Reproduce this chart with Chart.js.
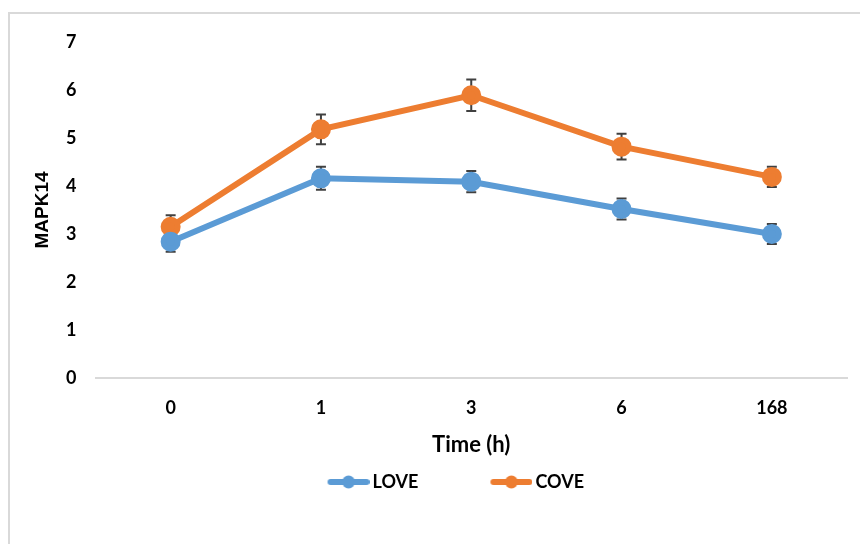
<!DOCTYPE html>
<html>
<head>
<meta charset="utf-8">
<script src="https://cdn.jsdelivr.net/npm/chart.js@4.4.1/dist/chart.umd.min.js"></script>
<style>
  body { margin: 0; background: #fff; }
  #wrap { width: 860px; height: 544px; }
</style>
</head>
<body>
<div id="wrap"><canvas id="myChart" width="860" height="544"></canvas></div>
<script>
// dữ liệu
var timeLabels = ['0', '1', '3', '6', '168'];
var loveValues = [2.84, 4.16, 4.09, 3.52, 3.0];
var loveErrors = [0.21, 0.24, 0.22, 0.22, 0.21];
var coveValues = [3.15, 5.18, 5.89, 4.82, 4.19];
var coveErrors = [0.24, 0.31, 0.33, 0.27, 0.21];

var blue = '#5b9bd5';
var orange = '#ed7d31';
var fontName = 'Lato, "Liberation Sans", Arial, sans-serif';
var tickFont = { family: fontName, size: 18, weight: 'bold' };

// legend marker: line with a dot (left part transparent = spacing)
function legendIcon(color) {
  var c = document.createElement('canvas');
  c.width = 110; c.height = 16;
  var g = c.getContext('2d');
  g.strokeStyle = color;
  g.lineWidth = 6;
  g.lineCap = 'round';
  g.beginPath(); g.moveTo(71, 8); g.lineTo(107, 8); g.stroke();
  g.fillStyle = color;
  g.beginPath(); g.arc(89, 8, 6.5, 0, Math.PI * 2); g.fill();
  return c;
}

// error bars + frame
var errorBars = {
  id: 'errorBars',
  beforeDraw: function (chart) {
    var ctx = chart.ctx;
    ctx.save();
    ctx.strokeStyle = '#d9d9d9';
    ctx.lineWidth = 2;
    ctx.beginPath();
    ctx.moveTo(9, 560);
    ctx.lineTo(9, 13);
    ctx.lineTo(870, 13);
    ctx.stroke();
    ctx.restore();
  },
  beforeDatasetsDraw: function (chart) {
    var ctx = chart.ctx;
    var y = chart.scales.y;
    ctx.save();
    ctx.strokeStyle = '#404040';
    ctx.lineWidth = 2;
    chart.data.datasets.forEach(function (ds, i) {
      var meta = chart.getDatasetMeta(i);
      meta.data.forEach(function (pt, j) {
        var top = y.getPixelForValue(ds.data[j] + ds.errors[j]);
        var bot = y.getPixelForValue(ds.data[j] - ds.errors[j]);
        ctx.beginPath();
        ctx.moveTo(pt.x, top); ctx.lineTo(pt.x, bot);
        ctx.moveTo(pt.x - 5, top); ctx.lineTo(pt.x + 5, top);
        ctx.moveTo(pt.x - 5, bot); ctx.lineTo(pt.x + 5, bot);
        ctx.stroke();
      });
    });
    ctx.restore();
  }
};

var ctx = document.getElementById('myChart').getContext('2d');
var myChart = new Chart(ctx, {
  type: 'line',
  data: {
    labels: timeLabels,
    datasets: [{
      label: 'LOVE',
      data: loveValues,
      errors: loveErrors,
      borderColor: blue,
      backgroundColor: blue,
      borderWidth: 6,
      pointRadius: 7,
      pointHoverRadius: 7,
      tension: 0
    }, {
      label: 'COVE',
      data: coveValues,
      errors: coveErrors,
      borderColor: orange,
      backgroundColor: orange,
      borderWidth: 6,
      pointRadius: 7,
      pointHoverRadius: 7,
      tension: 0
    }]
  },
  options: {
    responsive: false,
    animation: false,
    layout: { padding: { top: 42, right: 10.5, bottom: 43, left: 0 } },
    plugins: {
      tooltip: { enabled: false },
      legend: {
        position: 'bottom',
        labels: {
          usePointStyle: true,
          pointStyleWidth: 98,
          generateLabels: function (chart) {
            return chart.data.datasets.map(function (ds, i) {
              return {
                text: ds.label,
                pointStyle: legendIcon(ds.borderColor),
                fillStyle: ds.borderColor,
                strokeStyle: ds.borderColor,
                lineWidth: 0,
                datasetIndex: i,
                fontColor: '#000'
              };
            });
          },
          font: { family: fontName, size: 18, weight: 'bold' },
          color: '#000',
          padding: 10
        }
      }
    },
    scales: {
      x: {
        offset: true,
        grid: { display: false, drawTicks: false, offset: true },
        border: { color: '#d9d9d9', width: 2 },
        ticks: { color: '#000', font: tickFont, padding: 19 },
        title: {
          display: true,
          text: 'Time (h)',
          color: '#000',
          font: { family: fontName, size: 22, weight: 'bold' },
          padding: { top: 4, bottom: 5 }
        },
        afterFit: function (scale) { scale.height = 85; }
      },
      y: {
        min: 0,
        max: 7,
        grid: { display: false, drawTicks: false },
        border: { display: false },
        ticks: { stepSize: 1, color: '#000', font: tickFont, padding: 19 },
        title: {
          display: true,
          text: 'MAPK14',
          color: '#000',
          font: { family: 'Arial, "Liberation Sans", sans-serif', size: 19, weight: 'bold' },
          padding: { top: 31, bottom: 0 }
        },
        afterFit: function (scale) { scale.width = 95.5; }
      }
    }
  },
  plugins: [errorBars]
});
</script>
</body>
</html>
